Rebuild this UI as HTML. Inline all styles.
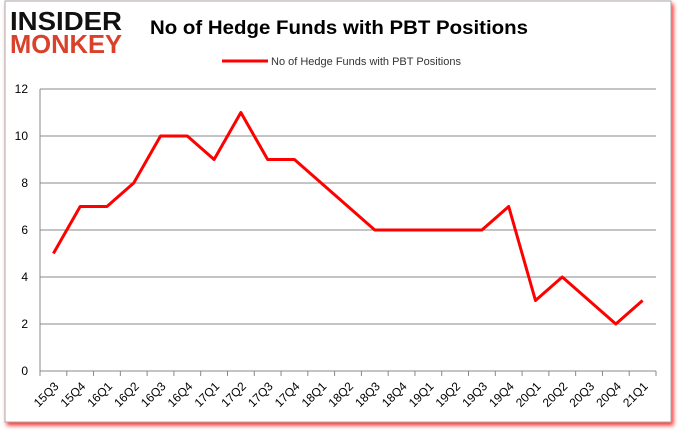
<!DOCTYPE html>
<html><head><meta charset="utf-8"><style>
body{margin:0;background:#fff;width:678px;height:431px;overflow:hidden;font-family:"Liberation Sans",sans-serif}
</style></head><body>
<svg width="678" height="431" xmlns="http://www.w3.org/2000/svg">
<defs><filter id="sh" x="-5%" y="-5%" width="110%" height="115%"><feDropShadow dx="2" dy="3" stdDeviation="2" flood-color="#f00" flood-opacity="0.8"/></filter></defs>
<rect x="5" y="1" width="666" height="421" fill="#fff" stroke="#aaa" filter="url(#sh)"/>
<g font-family="Liberation Sans" font-weight="bold">
<text x="10" y="30" font-size="26" fill="#111" textLength="112" lengthAdjust="spacingAndGlyphs">INSIDER</text>
<text x="10" y="53" font-size="26" fill="#d9412b" textLength="112" lengthAdjust="spacingAndGlyphs">MONKEY</text>
</g>
<text x="339" y="34" font-size="19" font-weight="bold" text-anchor="middle" fill="#000" textLength="378" lengthAdjust="spacingAndGlyphs">No of Hedge Funds with PBT Positions</text>
<g>
<line x1="222" y1="61" x2="268" y2="61" stroke="#f00" stroke-width="3"/>
<text x="271" y="65" font-size="11" fill="#333">No of Hedge Funds with PBT Positions</text>
</g>
<g id="plot"></g>
</svg>
<script>
const categories=["15Q3","15Q4","16Q1","16Q2","16Q3","16Q4","17Q1","17Q2","17Q3","17Q4","18Q1","18Q2","18Q3","18Q4","19Q1","19Q2","19Q3","19Q4","20Q1","20Q2","20Q3","20Q4","21Q1"];
const values=[5,7,7,8,10,10,9,11,9,9,8,7,6,6,6,6,6,7,3,4,3,2,3];
const yTicks=[0,2,4,6,8,10,12];
const NS="http://www.w3.org/2000/svg";
const L=40,R=656,T=89,B=371,ymax=12;
const band=(R-L)/categories.length;
const x=i=>L+band*(i+0.5);
const y=v=>B-(v/ymax)*(B-T);
const g=document.getElementById('plot');
function mk(t,a){const e=document.createElementNS(NS,t);for(const k in a)e.setAttribute(k,a[k]);g.appendChild(e);return e;}
yTicks.forEach(v=>{
 if(v>0){const gl=mk('line',{x1:L,x2:R,y1:y(v),y2:y(v),stroke:'#888','stroke-width':1});
 
 }
 const t=mk('text',{x:L-12,y:y(v)+4,'font-size':12,'text-anchor':'end',fill:'#000'});t.textContent=v;
 
 
});
const ax=mk('line',{x1:L,x2:L,y1:T,y2:B,stroke:'#888'});


const xa=mk('line',{x1:L,x2:R,y1:B,y2:B,stroke:'#888'});


for(let i=0;i<=categories.length;i++){const tk=mk('line',{x1:L+band*i,x2:L+band*i,y1:B,y2:B+5,stroke:'#888'});
 
 }
categories.forEach((c,i)=>{
 const t=mk('text',{x:0,y:0,'font-size':12,'text-anchor':'end',fill:'#000',transform:`translate(${x(i)+6},${B+16}) rotate(-45)`});
 t.textContent=c;
 
 
});
const line=mk('polyline',{points:values.map((v,i)=>x(i)+','+y(v)).join(' '),fill:'none',stroke:'#f00','stroke-width':3,'stroke-linejoin':'round'});


</script>
</body></html>
